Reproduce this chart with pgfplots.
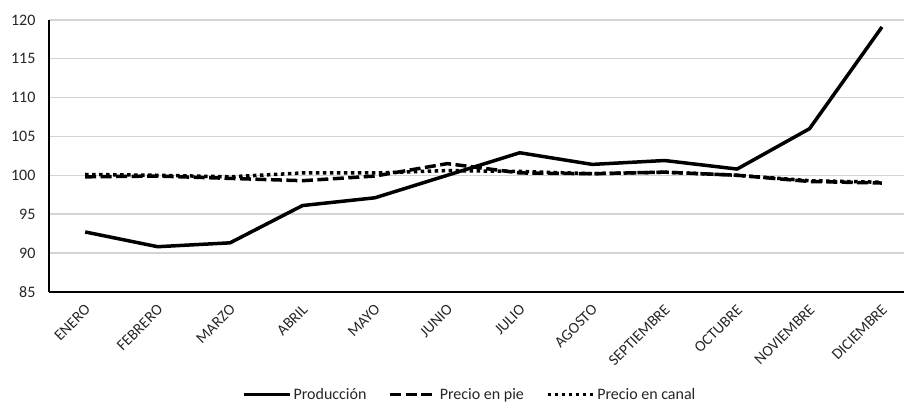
\documentclass[border=0pt]{standalone}
\usepackage{fontspec}
\setmainfont{Carlito}
\usepackage{pgfplots}
\pgfplotsset{compat=1.18}
\definecolor{txt}{HTML}{262626}
\definecolor{gridc}{HTML}{D4D4D4}
\begin{document}
\begin{tikzpicture}[font=\fontsize{16pt}{18pt}\selectfont]
\begin{axis}[
  scale only axis, width=856pt, height=272pt,
  xmin=-0.5, xmax=11.307, ymin=85, ymax=120,
  ytick={85,90,...,120},
  xtick={0,...,11},
  xticklabels={ENERO,FEBRERO,MARZO,ABRIL,MAYO,JUNIO,JULIO,AGOSTO,SEPTIEMBRE,OCTUBRE,NOVIEMBRE,DICIEMBRE},
  ymajorgrids, grid style={line width=1.3pt, color=gridc},
  axis lines=left, axis line style={-, line width=1.6pt, black},
  major tick length=0pt,
  tick label style={font=\fontsize{15.5pt}{17pt}\selectfont, text=txt},
  yticklabel style={/pgf/number format/assume math mode=true, font=\fontsize{16pt}{18pt}\selectfont, xshift=-10pt},
  xticklabel style={xshift=5pt, yshift=-13pt, rotate=45, anchor=east},
  legend columns=3,
  legend style={draw=none, at={(0.492,-0.379)}, anchor=center, font=\fontsize{16pt}{18pt}\selectfont, text=txt,
    /tikz/every even column/.append style={column sep=20pt}},
  legend image code/.code={\draw[#1] (0pt,0pt) -- (46pt,0pt);},
]
\addplot[black, line width=3.5pt, line join=round] coordinates {
(0,92.7) (1,90.8) (2,91.3) (3,96.1) (4,97.1) (5,100.0) (6,102.9) (7,101.4) (8,101.9) (9,100.8) (10,106.0) (11,119.1)};
\addlegendentry{Producción}
\addplot[black, line width=3.5pt, dash pattern=on 11pt off 4.5pt] coordinates {
(0,99.8) (1,99.9) (2,99.6) (3,99.3) (4,99.9) (5,101.5) (6,100.3) (7,100.2) (8,100.4) (9,100.0) (10,99.2) (11,99.0)};
\addlegendentry{Precio en pie}
\addplot[black, line width=3.5pt, dash pattern=on 3.5pt off 3.5pt] coordinates {
(0,100.1) (1,100.0) (2,99.8) (3,100.3) (4,100.3) (5,100.6) (6,100.5) (7,100.2) (8,100.4) (9,100.0) (10,99.3) (11,99.1)};
\addlegendentry{Precio en canal}
\end{axis}
\path ([shift={(-49pt,-109pt)}]current axis.south west) rectangle ([shift={(0pt,20pt)}]current axis.north east);
\end{tikzpicture}
\end{document}
